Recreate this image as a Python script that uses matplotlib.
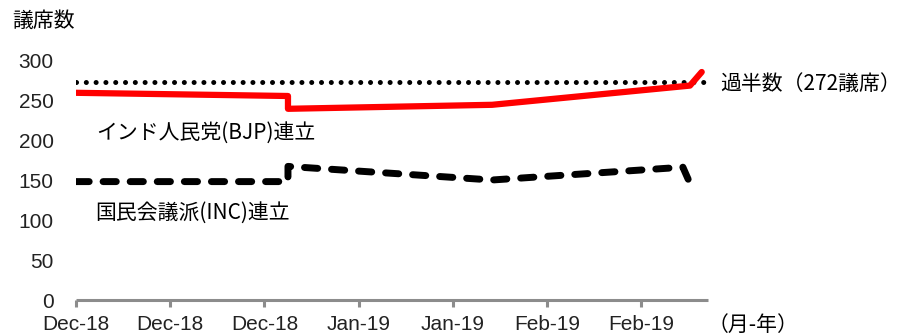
import matplotlib
matplotlib.use('Agg')
import matplotlib.pyplot as plt

plt.rcParams['font.family'] = ['Noto Sans CJK JP', 'DejaVu Sans']

# x positions in days from the first observation
tick_days = [0, 12, 24, 36, 48, 60, 72]
tick_labels = ['Dec-18', 'Dec-18', 'Dec-18', 'Jan-19', 'Jan-19', 'Feb-19', 'Feb-19']

bjp_days = [0, 27, 27, 53, 78.2, 79.7]
bjp_seats = [259, 255, 239, 244, 268, 285]

inc_days = [0, 27, 27, 53, 77.3, 78.6]
inc_seats = [148, 148, 167, 150, 166, 137]

majority_days = [0, 80]
majority_seats = [272, 272]

fig = plt.figure(figsize=(9.09, 3.36), dpi=100)
ax = fig.add_axes([76 / 909, 1 - 300 / 336, (708 - 76) / 909, 240 / 336])

ax.plot(majority_days, majority_seats, color='black', lw=3.6,
        linestyle=(0, (0.01, 1.95)), dash_capstyle='round')
ax.plot(bjp_days, bjp_seats, color='#ff0000', lw=4.5, solid_capstyle='round',
        solid_joinstyle='round')
ax.plot(inc_days, inc_seats, color='black', lw=5,
        linestyle=(0, (1.9, 2.0)), dash_capstyle='round')

ax.set_xlim(0, 80.5)
ax.set_ylim(0, 300)
ax.set_yticks([0, 50, 100, 150, 200, 250, 300])
ax.set_xticks(tick_days)
ax.set_xticklabels(tick_labels)

for s in ['top', 'right', 'left']:
    ax.spines[s].set_visible(False)
ax.spines['bottom'].set_color('#8c8c8c')
ax.spines['bottom'].set_linewidth(2.2)
ax.spines['bottom'].set_capstyle('butt')
ax.tick_params(axis='x', color='#8c8c8c', width=2.2, length=5, pad=6,
               labelsize=15, labelcolor='#222222')
ax.tick_params(axis='y', length=0, pad=16, labelsize=15, labelcolor='#222222')
for lab in ax.get_xticklabels() + ax.get_yticklabels():
    lab.set_family(['Liberation Sans', 'DejaVu Sans'])

fig.text(12 / 909, 1 - 21 / 336, '議席数', fontsize=15, va='center', ha='left')
fig.text(720 / 909, 1 - 84 / 336, '過半数（272議席）', fontsize=15, va='center', ha='left')
fig.text(96 / 909, 1 - 133 / 336, 'インド人民党(BJP)連立', fontsize=15, va='center', ha='left')
fig.text(95 / 909, 1 - 213 / 336, '国民会議派(INC)連立', fontsize=15, va='center', ha='left')
fig.text(708 / 909, 1 - 325 / 336, '（月-年）', fontsize=15, va='center', ha='left')

fig.savefig('out.png', dpi=100)
